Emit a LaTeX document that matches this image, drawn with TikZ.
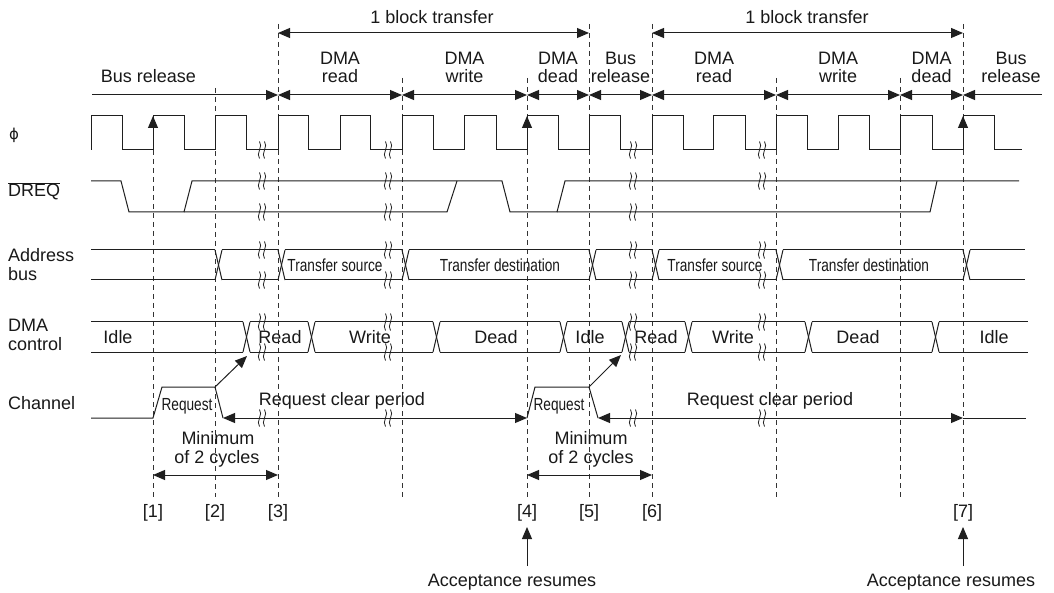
\documentclass[tikz,border=0pt]{standalone}
\usepackage{fontspec}
\setmainfont{Liberation Sans}
\newfontfamily\narrowfont[FakeStretch=0.78]{Liberation Sans}
\newfontfamily\symfont{DejaVu Sans}
\usetikzlibrary{arrows.meta}
\begin{document}
\begin{tikzpicture}[x=1pt,y=-1pt,
  >={Triangle[length=12pt,width=10pt]},
  sig/.style={line width=1pt,draw=black!88},
  guide/.style={line width=0.8pt,draw=black!80,dash pattern=on 5pt off 4pt},
  lbl/.style={font=\fontsize{18}{20}\selectfont,anchor=base,inner sep=0pt,text=black!90},
  lblw/.style={lbl,anchor=base west},
  nar/.style={font=\narrowfont\fontsize{17.5}{19}\selectfont,anchor=base,inner sep=0pt,text=black!90},
  brk/.pic={\draw[line width=0.8pt,black!88] (-2.5,-8.5) .. controls (1.5,-4) and (-6.5,4) .. (-2.5,8.5);
            \draw[line width=0.8pt,black!88] (2.5,-8.5) .. controls (6.5,-4) and (-1.5,4) .. (2.5,8.5);}
]
\fill[white] (0,0) rectangle (1054,593);
\useasboundingbox (0,0) rectangle (1054,593);

% ---------- dashed guides ----------
\foreach \x/\t in {153/150,215/88,278/24,402/78,527/78,589/24,652/24,776/78,900/78,963/24}
  \draw[guide] (\x,\t) -- (\x,497);

% ---------- left labels ----------
\node[lblw,font=\symfont\fontsize{15}{18}\selectfont] (lphi) at (9,140) {ϕ};
\node[lblw] (ldreq) at (8,197) {$\overline{\mbox{DREQ}}$};
\node[lblw] (laddr1) at (8,262) {Address};
\node[lblw] (laddr2) at (8,281) {bus};
\node[lblw] (lctl1) at (8,331) {DMA};
\node[lblw] (lctl2) at (8,350) {control};
\node[lblw] (lch) at (8,409) {Channel};

% ---------- block transfer ----------
\draw[sig,<->] (278,33) -- (589,33);
\draw[sig,<->] (652,33) -- (963,33);
\node[lbl] (bt1) at (432,23.5) {1 block transfer};
\node[lbl] (bt2) at (807,23.5) {1 block transfer};

% ---------- phase row ----------
\draw[sig,->] (92,95) -- (278,95);
\foreach \a/\b in {278/402,402/527,527/589,589/652,652/776,776/900,900/963}
  \draw[sig,<->] (\a,95) -- (\b,95);
\draw[sig,<-] (963,95) -- (1042,95);
\node[lbl] (ph0) at (148.5,83) {Bus release};
\foreach \x/\p/\q [count=\i] in {340/DMA/read,464.5/DMA/write,558/DMA/dead,620.5/Bus/release,714/DMA/read,838/DMA/write,931.5/DMA/dead,1011/Bus/release}{
  \node[lbl] (pha\i) at (\x,65) {\p};
  \node[lbl] (phb\i) at (\x,83) {\q};
}

% ---------- clock ----------
\draw[sig] (91,150) |- (122,116) |- (153,150) |- (184,116) |- (215,150) |- (246,116)
  |- (278,150) |- (308,116) |- (340,150) |- (370,116) |- (402,150) |- (433,116)
  |- (464,150) |- (496,116) |- (527,150) |- (558,116) |- (589,150) |- (620,116)
  |- (652,150) |- (683,116) |- (713,150) |- (745,116) |- (776,150) |- (807,116)
  |- (838,150) |- (869,116) |- (900,150) |- (932,116) |- (963,150) |- (994,116)
  |- (1022,150);
\foreach \x in {153,527,963} \draw[sig,->] (\x,150) -- (\x,116);

% ---------- DREQ ----------
\draw[sig] (91,181) -- (121,181) -- (129,212) -- (184,212) -- (192,181) -- (502,181)
  -- (510,212) -- (557,212) -- (565,181) -- (1019,181);
\draw[sig] (184,212) -- (447,212) -- (457,181);
\draw[sig] (557,212) -- (930,212) -- (937,181);

% ---------- address bus ----------
\foreach \a/\b in {91/215,222/278,285/402,409/589,596/652,659/776,783/963,970/1025}{
  \draw[sig] (\a,250) -- (\b,250);
  \draw[sig] (\a,280) -- (\b,280);
}
\foreach \a in {215,278,402,589,652,776,963}{
  \draw[sig] (\a,250) -- ({\a+7},280);
  \draw[sig] (\a,280) -- ({\a+7},250);
}
\node[nar] (as1) at (335,272) {Transfer source};
\node[nar] (ad1) at (500,272) {Transfer destination};
\node[nar] (as2) at (715,272) {Transfer source};
\node[nar] (ad2) at (869,272) {Transfer destination};

% ---------- DMA control ----------
\foreach \a/\b in {91/243,250/308,315/433,440/560,567/622,629/685,692/805,812/932,939/1028}{
  \draw[sig] (\a,322) -- (\b,322);
  \draw[sig] (\a,352) -- (\b,352);
}
\foreach \a in {243,308,433,560,622,685,805,932}{
  \draw[sig] (\a,322) -- ({\a+7},352);
  \draw[sig] (\a,352) -- ({\a+7},322);
}
\foreach \x/\t [count=\i] in {118/Idle,280/Read,370/Write,496/Dead,590/Idle,656/Read,733/Write,858/Dead,994/Idle}
  \node[lbl] (ctl\i) at (\x,344) {\t};

% ---------- channel ----------
\draw[sig] (91,418) -- (153,418) -- (162,387) -- (215,387) -- (223,418);
\draw[sig,<->] (223,418) -- (527,418);
\draw[sig] (527,418) -- (535,387) -- (589,387) -- (598,418);
\draw[sig,<->] (598,418) -- (963,418);
\draw[sig] (963,418) -- (1026,418);
\node[nar] (rq1) at (187,410) {Request};
\node[nar] (rq2) at (559,410) {Request};
\node[lbl] (rc1) at (342,405) {Request clear period};
\node[lbl] (rc2) at (770,405) {Request clear period};
\coordinate (d1a) at (215,387); \coordinate (d1b) at (247,356);
\coordinate (d2a) at (589,387); \coordinate (d2b) at (621,355);
\draw[sig,->] (d1a) -- (d1b);
\draw[sig,->] (d2a) -- (d2b);

% ---------- breaks ----------
\foreach \x in {262,388,633}
  \foreach \y in {150,181,212,250,280,322,352,418}
    \pic at (\x,\y) {brk};
\foreach \y in {150,181,250,280,322,352,418}
  \pic at (762,\y) {brk};

% ---------- minimum of 2 cycles ----------
\draw[sig,<->] (153,475) -- (278,475);
\draw[sig,<->] (527,475) -- (652,475);
\node[lbl] (mn1) at (218,444) {Minimum};
\node[lbl] (mo1) at (217,463) {of 2 cycles};
\node[lbl] (mn2) at (591,444) {Minimum};
\node[lbl] (mo2) at (591,463) {of 2 cycles};

% ---------- point labels ----------
\foreach \x/\t in {153/1,215/2,278/3,527/4,589/5,652/6,963/7}
  \node[lbl] (pt\t) at (\x,517) {[\t]};

% ---------- acceptance ----------
\draw[sig,->] (527,566) -- (527,527);
\draw[sig,->] (963,566) -- (963,527);
\node[lbl] (acc1) at (512,586) {Acceptance resumes};
\node[lbl] (acc2) at (951,586) {Acceptance resumes};
\end{tikzpicture}
\end{document}
